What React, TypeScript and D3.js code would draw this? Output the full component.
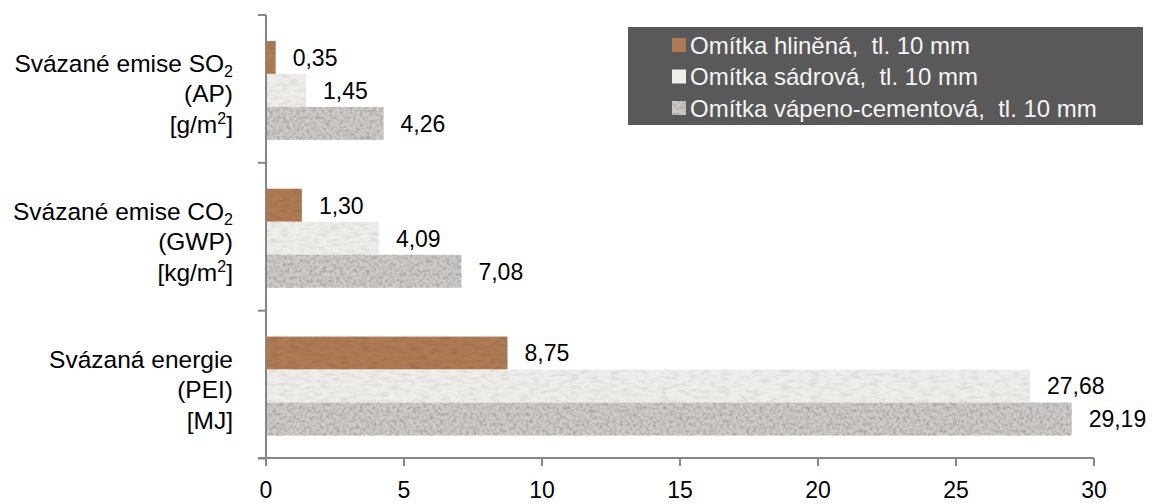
import React from "react";
import * as d3 from "d3";

const categories = ["SO2", "CO2", "PEI"];
const categoryLines: { main: string; sub?: string; sup?: string; tail?: string }[][] = [
  [{ main: "Svázané emise SO", sub: "2" }, { main: "(AP)" }, { main: "[g/m", sup: "2", tail: "]" }],
  [{ main: "Svázané emise CO", sub: "2" }, { main: "(GWP)" }, { main: "[kg/m", sup: "2", tail: "]" }],
  [{ main: "Svázaná energie" }, { main: "(PEI)" }, { main: "[MJ]" }],
];
const seriesNames = [
  "Omítka hliněná,  tl. 10 mm",
  "Omítka sádrová,  tl. 10 mm",
  "Omítka vápeno-cementová,  tl. 10 mm",
];
const hlinena = [0.35, 1.3, 8.75];
const sadrova = [1.45, 4.09, 27.68];
const vapenoCementova = [4.26, 7.08, 29.19];
const seriesValues = [hlinena, sadrova, vapenoCementova];
const xTicks = [0, 5, 10, 15, 20, 25, 30];
const colors = ["#ad7a53", "#eeedea", "#cdcac7"];

const FONT = "'Liberation Sans', Arial, sans-serif";
const fmt = (v: number) => v.toFixed(2).replace(".", ",");

export default function App() {
  const W = 1152, H = 504;
  const x = d3.scaleLinear().domain([0, 30]).range([266, 1094]);
  const y = d3.scaleBand<string>().domain(categories).range([15, 458.5]);
  const bw = y.bandwidth();
  const barsTotal = 99;
  const inner = d3.scaleBand<number>().domain([0, 1, 2]).range([0, barsTotal]);
  const axisColor = "#868686";

  return (
    <svg width={W} height={H} style={{ position: "absolute", left: 0, top: 0, background: "#fff" }} fontFamily={FONT}>
      <defs>
        <filter id="grainStrong" x="0" y="0" width="1" height="1">
          <feTurbulence type="fractalNoise" baseFrequency="0.3" numOctaves="2" seed="7" result="n" />
          <feColorMatrix in="n" type="matrix" values="0 0 0 0 0  0 0 0 0 0  0 0 0 0 0  0.9 0 0 0 -0.36" result="dark" />
          <feComposite in="dark" in2="SourceGraphic" operator="in" result="d2" />
          <feMerge>
            <feMergeNode in="SourceGraphic" />
            <feMergeNode in="d2" />
          </feMerge>
        </filter>
        <filter id="grainSoft" x="0" y="0" width="1" height="1">
          <feTurbulence type="fractalNoise" baseFrequency="0.1 0.3" numOctaves="2" seed="3" result="n" />
          <feColorMatrix in="n" type="matrix" values="0 0 0 0 0  0 0 0 0 0  0 0 0 0 0  0.4 0 0 0 -0.17" result="dark" />
          <feComposite in="dark" in2="SourceGraphic" operator="in" result="d2" />
          <feMerge>
            <feMergeNode in="SourceGraphic" />
            <feMergeNode in="d2" />
          </feMerge>
        </filter>
      </defs>

      {/* bars */}
      {categories.map((c, ci) => {
        const top = (y(c) as number) + bw / 2 + 1.5 - barsTotal / 2;
        return seriesValues.map((vals, si) => {
          const v = vals[ci];
          const by = top + (inner(si) as number);
          const bh = inner.bandwidth();
          return (
            <g key={c + si}>
              <rect
                x={x(0)}
                y={by}
                width={x(v) - x(0)}
                height={bh}
                fill={colors[si]}
                filter={si === 2 ? "url(#grainStrong)" : "url(#grainSoft)"}
              />
              <text x={x(v) + 17} y={by + bh / 2} dy="0.36em" fontSize={23} fill="#000">
                {fmt(v)}
              </text>
            </g>
          );
        });
      })}

      {/* axes */}
      <line x1={x(0)} x2={x(0)} y1={15} y2={466} stroke={axisColor} strokeWidth={2} />
      <line x1={258} x2={x(30)} y1={458} y2={458} stroke={axisColor} strokeWidth={2} />
      {[15, ...categories.map((c) => (y(c) as number) + bw)].map((ty, i) => (
        <line key={"yt" + i} x1={258} x2={x(0)} y1={ty} y2={ty} stroke={axisColor} strokeWidth={2} />
      ))}
      {xTicks.map((t) => (
        <g key={"xt" + t}>
          <line x1={x(t)} x2={x(t)} y1={458} y2={466} stroke={axisColor} strokeWidth={2} />
          <text x={x(t)} y={498} textAnchor="middle" fontSize={23} fill="#000">
            {t}
          </text>
        </g>
      ))}

      {/* category labels */}
      {categories.map((c, ci) => {
        const cy = (y(c) as number) + bw / 2;
        const offsets = [-17, 13, 44];
        return categoryLines[ci].map((ln, li) => (
          <text key={c + li} x={233} y={cy + offsets[li]} textAnchor="end" fontSize={24.5} fill="#000">
            {ln.main}
            {ln.sub && (
              <tspan fontSize={16} dy={5}>
                {ln.sub}
              </tspan>
            )}
            {ln.sup && (
              <tspan fontSize={16} dy={-9}>
                {ln.sup}
              </tspan>
            )}
            {ln.tail && <tspan dy={9}>{ln.tail}</tspan>}
          </text>
        ));
      })}

      {/* legend */}
      <rect x={628} y={27} width={515} height={98} fill="#595959" />
      {seriesNames.map((s, i) => {
        const cy = 45 + i * 31.5;
        return (
          <g key={s}>
            <rect x={672} y={cy - 7} width={14} height={14} fill={colors[i]} filter={i === 2 ? "url(#grainStrong)" : undefined} />
            <text x={690} y={cy} dy="0.36em" fontSize={24} fill="#f4f4f4" style={{ whiteSpace: "pre" }}>
              {s}
            </text>
          </g>
        );
      })}
    </svg>
  );
}
